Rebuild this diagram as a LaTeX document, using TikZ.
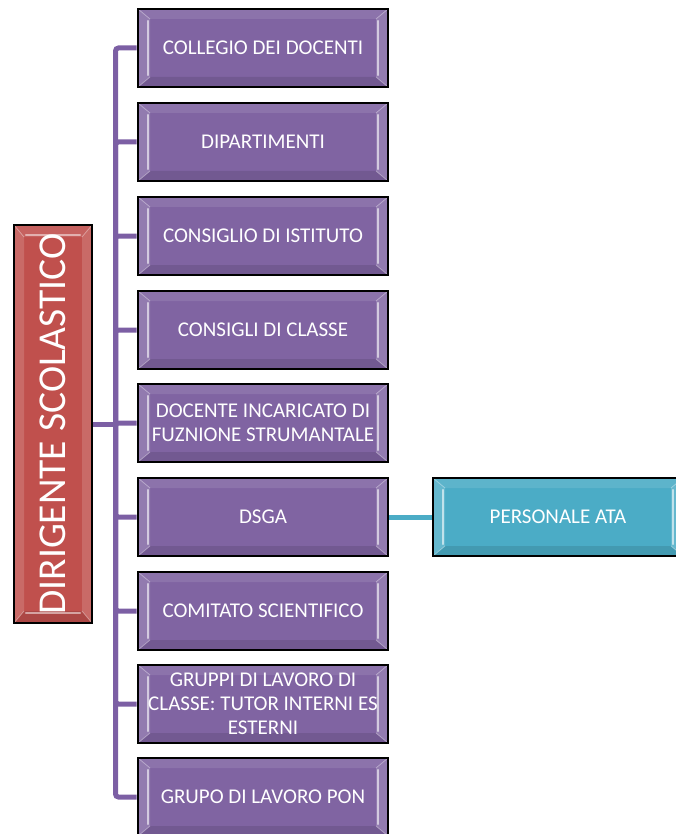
\documentclass[tikz,border=0pt]{standalone}
\usepackage{fontspec}
\setmainfont{Carlito}
\definecolor{purp}{HTML}{8064A2}
\definecolor{purpline}{HTML}{7C5FA4}
\definecolor{redb}{HTML}{C0504D}
\definecolor{blueb}{HTML}{4BACC6}
\newcommand{\bevelfaces}[2]{%
    \coordinate (onw) at (path picture bounding box.north west);
    \coordinate (one) at (path picture bounding box.north east);
    \coordinate (osw) at (path picture bounding box.south west);
    \coordinate (ose) at (path picture bounding box.south east);
    \coordinate (inw) at ([shift={(#1,-#2)}]path picture bounding box.north west);
    \coordinate (ine) at ([shift={(-#1,-#2)}]path picture bounding box.north east);
    \coordinate (isw) at ([shift={(#1,#2)}]path picture bounding box.south west);
    \coordinate (ise) at ([shift={(-#1,#2)}]path picture bounding box.south east);
    \fill[white,opacity=0.10] (onw) -- (one) -- (ine) -- (inw) -- cycle;
    \fill[black,opacity=0.10] (osw) -- (ose) -- (ise) -- (isw) -- cycle;
    \fill[white,opacity=0.15] (onw) -- (inw) -- (isw) -- (osw) -- cycle;
    \fill[white,opacity=0.15] (one) -- (ine) -- (ise) -- (ose) -- cycle;
    \draw[white,opacity=0.35,line width=0.8pt] (onw) -- (inw) (osw) -- (isw) (one) -- (ine) (ose) -- (ise);
}
\tikzset{
  bevelv/.style={path picture={
    \bevelfaces{12pt}{10pt}
    \draw[white,opacity=0.6,line width=2.5pt,line cap=round]
      ([shift={(10pt,-12pt)}]path picture bounding box.north west) -- ([shift={(10pt,12pt)}]path picture bounding box.south west)
      ([shift={(-10pt,-12pt)}]path picture bounding box.north east) -- ([shift={(-10pt,12pt)}]path picture bounding box.south east);
  }},
  bevelh/.style={path picture={
    \bevelfaces{10pt}{12pt}
    \draw[white,opacity=0.5,line width=2.5pt,line cap=round]
      ([shift={(12pt,-10pt)}]path picture bounding box.north west) -- ([shift={(-12pt,-10pt)}]path picture bounding box.north east)
      ([shift={(12pt,10pt)}]path picture bounding box.south west) -- ([shift={(-12pt,10pt)}]path picture bounding box.south east);
  }},
  box/.style={draw=black, line width=1.4pt, minimum width=250pt, minimum height=78pt,
    inner sep=0pt, align=center, text=white, font=\fontsize{21}{24}\selectfont},
  pbox/.style={box, bevelv, fill=purp},
  cbox/.style={box, bevelv, fill=blueb},
  rbox/.style={draw=black, line width=1.4pt, bevelh, fill=redb, minimum width=78pt, minimum height=398pt, inner sep=0pt},
  rtext/.style={rotate=90, text=white, font=\fontsize{39.5}{42}\selectfont, inner sep=0pt},
  conn/.style={draw=purpline, line width=5pt, rounded corners=3pt},
  cconn/.style={draw=blueb, line width=5pt},
}
\begin{document}
\begin{tikzpicture}[x=1pt,y=-1pt]
\useasboundingbox (0,0) rectangle (675,834);
\node[rbox] (dir) at (53,424) {};
\node[rtext] (dirt) at (dir.center) {DIRIGENTE SCOLASTICO};
\coordinate (bus) at (115.5,424);
\node[pbox] (n1) at (263,48) {COLLEGIO DEI DOCENTI};
\node[pbox] (n2) at (263,142) {DIPARTIMENTI};
\node[pbox] (n3) at (263,236) {CONSIGLIO DI ISTITUTO};
\node[pbox] (n4) at (263,330) {CONSIGLI DI CLASSE};
\node[pbox] (n5) at (263,423) {DOCENTE INCARICATO DI\\FUZNIONE STRUMANTALE};
\node[pbox] (n6) at (263,517) {DSGA};
\node[pbox] (n7) at (263,611) {COMITATO SCIENTIFICO};
\node[pbox] (n8) at (263,704) {GRUPPI DI LAVORO DI\\CLASSE: TUTOR INTERNI ES\\ESTERNI};
\node[pbox] (n9) at (263,797) {GRUPO DI LAVORO PON};
\node[cbox] (ata) at (558,517) {PERSONALE ATA};
\draw[conn] (dir.east) -- (bus);
\foreach \n in {n1,n2,n3,n4,n5,n6,n7,n8,n9}{
  \draw[conn] (bus) |- ([xshift=-0.7pt]\n.west);
}
\draw[cconn] ([xshift=0.7pt]n6.east) -- ([xshift=-0.7pt]ata.west);
\end{tikzpicture}
\end{document}
